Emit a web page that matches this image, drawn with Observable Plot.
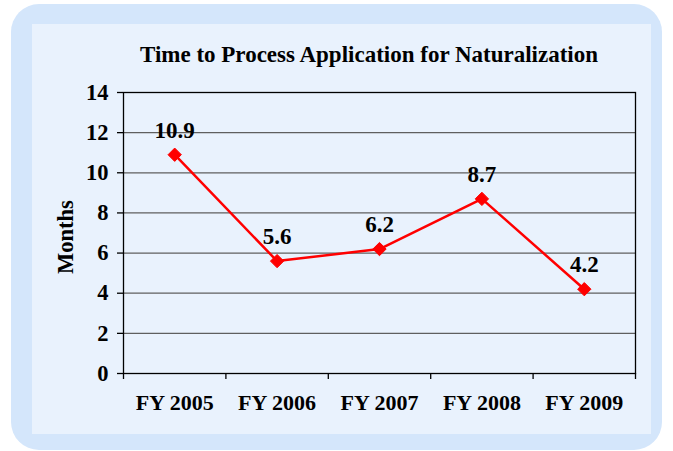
<!DOCTYPE html>
<html>
<head>
<meta charset="utf-8">
<script src="https://cdn.jsdelivr.net/npm/d3@7"></script>
<script src="https://cdn.jsdelivr.net/npm/@observablehq/plot@0.6"></script>
<style>
  html, body { margin: 0; padding: 0; background: #ffffff; }
  #wrap { position: relative; width: 673px; height: 451px; overflow: hidden; font-family: "Liberation Serif", "Times New Roman", serif; }
  #outer { position: absolute; left: 11px; top: 4px; width: 651px; height: 446px; background: #d4e6fb; border-radius: 28px; }
  #inner { position: absolute; left: 32px; top: 24px; width: 619px; height: 410px; background: #e9f2fd; }
  #title { position: absolute; left: 0; top: 42px; width: 738px; text-align: center; font-weight: bold; font-size: 23px; color: #000; white-space: nowrap; }
  #ylabel { position: absolute; left: 66px; top: 237px; transform: translate(-50%, -50%) rotate(-90deg); font-weight: bold; font-size: 22.5px; color: #000; white-space: nowrap; }
  #chart { position: absolute; left: 0; top: 0; }
</style>
</head>
<body>
<div id="wrap">
  <div id="outer"></div>
  <div id="inner"></div>
  <div id="title">Time to Process Application for Naturalization</div>
  <div id="ylabel">Months</div>
  <div id="chart"></div>
</div>
<script>
const categories = ["FY 2005", "FY 2006", "FY 2007", "FY 2008", "FY 2009"];
const months = [10.9, 5.6, 6.2, 8.7, 4.2];
const yTicks = [0, 2, 4, 6, 8, 10, 12, 14];
const gridValues = [2, 4, 6, 8, 10, 12];

const data = categories.map((c, i) => ({pos: i + 1, category: c, value: months[i]}));
const centers = categories.map((c, i) => i + 1);
const boundaries = [0.5, ...categories.map((c, i) => i + 1.5)];

const font = '"Liberation Serif", "Times New Roman", serif';

const chart = Plot.plot({
  width: 673,
  height: 451,
  marginLeft: 123,
  marginRight: 38,
  marginTop: 92,
  marginBottom: 78,
  style: {background: "transparent", fontFamily: font, color: "#000", overflow: "visible"},
  x: {type: "linear", domain: [0.5, 5.5]},
  y: {domain: [0, 14]},
  marks: [
    Plot.ruleY(gridValues, {stroke: "#5f5f5f", strokeWidth: 1.3}),
    Plot.frame({stroke: "#000", strokeWidth: 1.3}),
    Plot.axisY({ticks: yTicks, tickSize: 6, tickPadding: 9, fontSize: 22.5, fontWeight: "bold", label: null, stroke: "#000", strokeWidth: 1.3}),
    Plot.axisX({ticks: boundaries, tickSize: 6, tickFormat: () => "", label: null, stroke: "#000", strokeWidth: 1.3}),
    Plot.axisX({ticks: centers, tickSize: 0, tickPadding: 21, tickFormat: d => categories[Math.round(d) - 1], fontSize: 22, fontWeight: "bold", label: null}),
    Plot.line(data, {x: "pos", y: "value", stroke: "#ff0000", strokeWidth: 2.5}),
    Plot.dot(data, {x: "pos", y: "value", symbol: "diamond2", r: 6, fill: "#ff0000", stroke: "#ff0000", strokeWidth: 1}),
    Plot.text(data, {x: "pos", y: "value", text: d => String(d.value), dy: -17, lineAnchor: "bottom", fontSize: 23, fontWeight: "bold", fill: "#000"})
  ]
});
document.getElementById("chart").appendChild(chart);
</script>
</body>
</html>
